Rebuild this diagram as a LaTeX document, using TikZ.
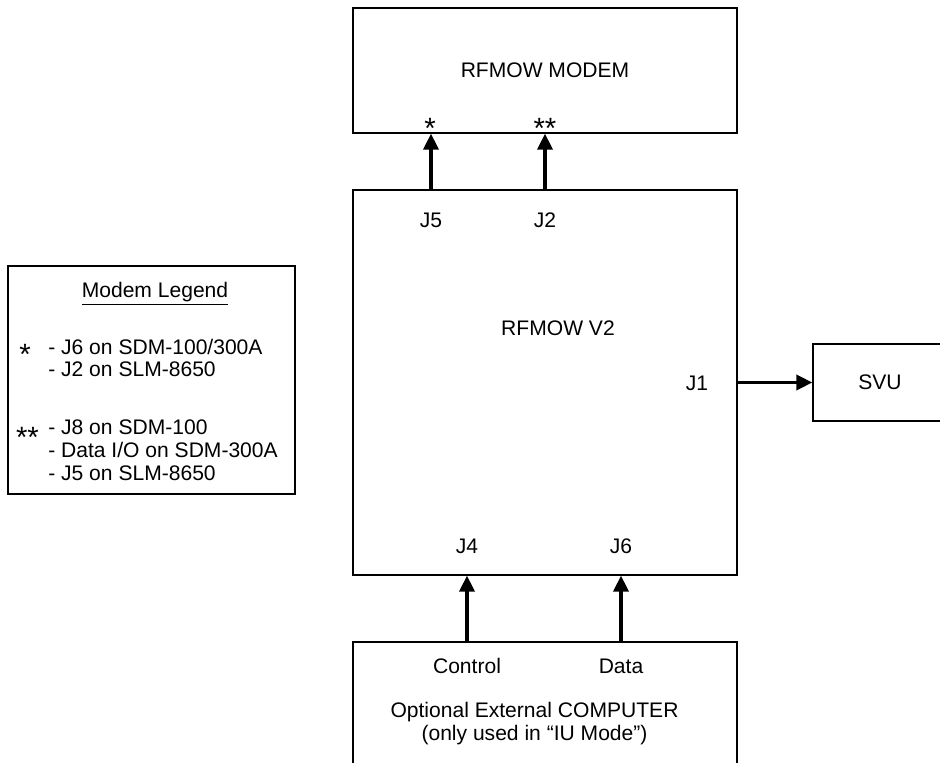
\documentclass[tikz,border=0pt]{standalone}
\usepackage{fontspec}
\setmainfont{Liberation Sans}
\usetikzlibrary{arrows.meta,positioning}

\begin{document}
\begin{tikzpicture}[x=0.75pt, y=-0.75pt, >={Triangle[length=12pt,width=11.5pt]},
  box/.style={draw, line width=1.1pt, inner sep=0pt,
    font=\fontsize{15.8}{17.25}\selectfont},
  lbl/.style={font=\fontsize{15.8}{17.25}\selectfont, inner sep=0pt, anchor=base},
  asterisk/.style={font=\fontsize{22}{22}\selectfont, inner sep=0pt, anchor=base},
  link/.style={->, line width=2.3pt}]
  \useasboundingbox (0,0) rectangle (940,763);
  \clip (0,0) rectangle (940,763);
  % boxes
  \node[box, minimum width=288pt, minimum height=93.75pt] (modem) at (545,70.5) {RFMOW MODEM};
  \node[box, minimum width=288pt, minimum height=288.75pt] (main) at (545,382.5) {};
  \node[box, minimum width=100.5pt, minimum height=57.75pt] (svu) at (880,382.5) {SVU};
  \node[box, minimum width=288pt, minimum height=112.5pt] (comp) at (545,717) {};
  \node[box, minimum width=215.25pt, minimum height=171pt] (legend) at (151.5,380) {};
  % connector labels
  \node[asterisk] (star) at (430,139) {*};
  \node[asterisk] (dstar) at (545,139) {**};
  \node[lbl] (j5) at (431,228) {J5};
  \node[lbl] (j2) at (545,228) {J2};
  \node[lbl] (v2) at (558,335) {RFMOW V2};
  \node[lbl] (j1) at (697,390) {J1};
  \node[lbl] (j4) at (467,553) {J4};
  \node[lbl] (j6) at (621,553) {J6};
  \node[lbl] (ctrl) at (467,673) {Control};
  \node[lbl] (data) at (621,673) {Data};
  \node[lbl] (optc) at (534.5,717) {Optional External COMPUTER};
  \node[lbl] (iu) at (534.5,740) {(only used in “IU Mode”)};
  % legend
  \node[lbl] (ltitle) at (155,298) {\underline{Modem Legend}};
  \node[asterisk] (lstar) at (25,364) {*};
  \node[lbl, anchor=base west] (la) at (48,354) {- J6 on SDM-100/300A};
  \node[lbl, anchor=base west] (lb) at (48,377) {- J2 on SLM-8650};
  \node[asterisk] (ldstar) at (27.5,447) {**};
  \node[lbl, anchor=base west] (lc) at (48,434) {- J8 on SDM-100};
  \node[lbl, anchor=base west] (ld) at (48,457) {- Data I/O on SDM-300A};
  \node[lbl, anchor=base west] (le) at (48,480) {- J5 on SLM-8650};
  % connectors
  \draw[link] (main.north -| j5) -- (modem.south -| j5);
  \draw[link] (main.north -| j2) -- (modem.south -| j2);
  \draw[link] (main.east) -- (svu.west);
  \draw[link] (comp.north -| j4) -- (main.south -| j4);
  \draw[link] (comp.north -| j6) -- (main.south -| j6);
\end{tikzpicture}
\end{document}
